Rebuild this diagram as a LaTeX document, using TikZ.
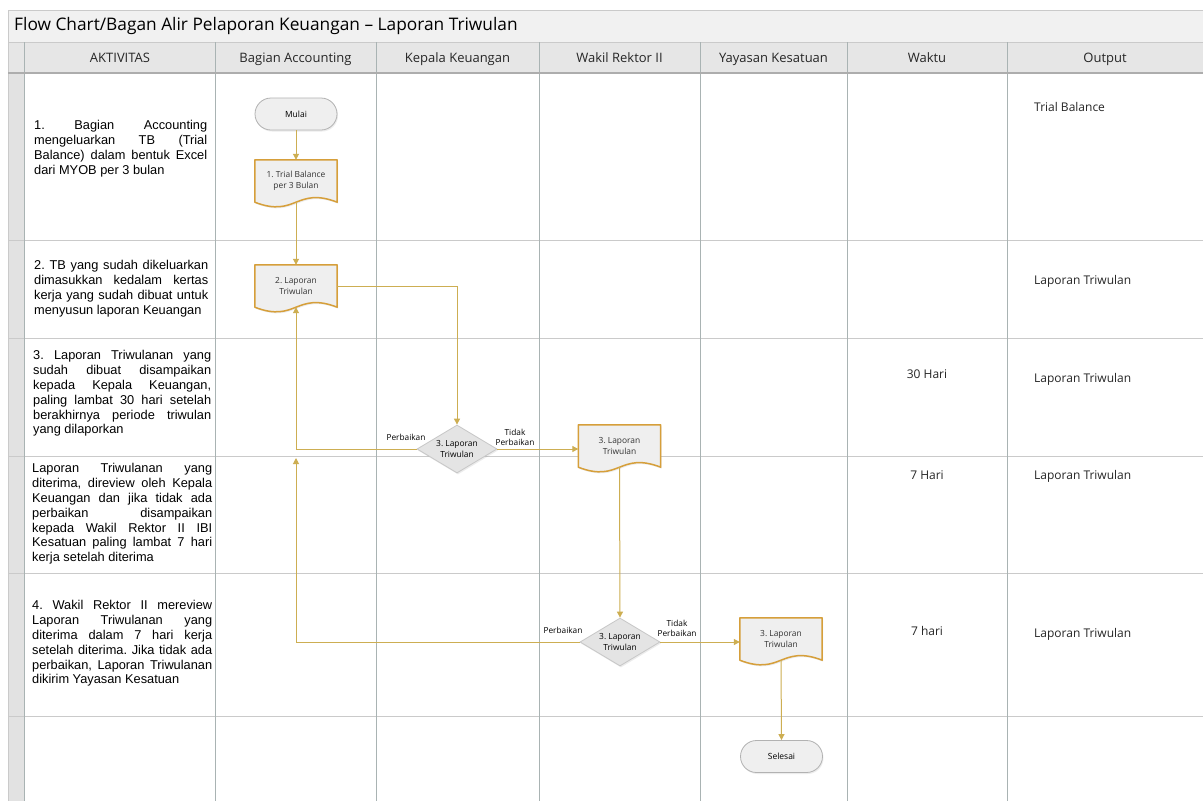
\documentclass[tikz,border=0pt]{standalone}
\usepackage{fontspec}
\setmainfont{Open Sans}
\newfontfamily\arialf{Liberation Sans}
\usetikzlibrary{shapes.geometric,arrows.meta,calc,shadows}

\definecolor{gridv}{HTML}{A9B3B3}
\definecolor{gridh}{HTML}{CACACA}
\definecolor{conncol}{HTML}{CDAE52}
\definecolor{docedge}{HTML}{D69F3A}
\definecolor{shapefill}{HTML}{EFEFEF}
\definecolor{decfill}{HTML}{E4E4E4}
\definecolor{hdrfill}{HTML}{E6E6E6}
\definecolor{titlefill}{HTML}{F1F1F1}
\definecolor{stripfill}{HTML}{E2E2E2}

\pgfdeclarelayer{bg}
\pgfdeclarelayer{mid}
\pgfsetlayers{bg,mid,main}

\newcommand{\docshape}[1]{%
  \begin{pgfonlayer}{mid}
  \path[docpath] (#1.north west) -- (#1.north east) -- (#1.south east)
     .. controls ($(#1.south)+(0,-16)$) and ($(#1.south)+(0,16)$) .. (#1.south west) -- cycle;
  \end{pgfonlayer}}

\begin{document}
\frenchspacing
\begin{tikzpicture}[x=1pt,y=-1pt,
  conn/.style={draw=conncol, line width=1pt, -{Triangle[length=6pt,width=6pt]}},
  docnode/.style={minimum width=82pt, minimum height=42pt, inner sep=0pt, align=center,
     font=\fontsize{8.4}{10.5}\selectfont, text=black!80},
  docpath/.style={fill=shapefill, draw=docedge, line width=1.5pt, line join=round,
     drop shadow={opacity=0.15, shadow xshift=1pt, shadow yshift=-1.5pt}},
  term/.style={rectangle, rounded corners=16pt, minimum width=82pt, minimum height=32pt,
     fill=shapefill, draw=black!30, line width=0.8pt, font=\fontsize{8.5}{10}\selectfont,
     drop shadow={opacity=0.15, shadow xshift=1pt, shadow yshift=-1.5pt}},
  dec/.style={diamond, aspect=1.67, minimum width=80pt, minimum height=48pt, inner sep=0pt,
     fill=decfill, draw=black!22, line width=0.8pt, align=center,
     font=\fontsize{8.4}{10.5}\selectfont,
     drop shadow={opacity=0.15, shadow xshift=1pt, shadow yshift=-1.5pt}},
  lbl/.style={font=\fontsize{8.3}{10}\selectfont, align=center, inner sep=0pt},
  hdr/.style={font=\fontsize{13}{15}\selectfont, text=black!85, text height=9.5pt, text depth=3pt, inner sep=0pt},
  act/.style={anchor=north west, inner sep=0pt, align=left,
     font=\arialf\fontsize{12.8}{14.9}\selectfont},
  celltxt/.style={font=\fontsize{12}{14}\selectfont, text=black!85, inner sep=0pt, text height=9pt, text depth=3pt},
  vline/.style={draw=gridv, line width=1pt},
  hline/.style={draw=gridh, line width=1pt}
]
\useasboundingbox (0,0) rectangle (1203,801);

% ---------- grid ----------
\begin{pgfonlayer}{bg}
\fill[white] (0,0) rectangle (1203,801);
\fill[titlefill] (8,10) rectangle (1203,42);
\fill[hdrfill] (8,42) rectangle (1203,73);
\fill[stripfill] (8,73) rectangle (24,801);
\draw[hline] (8,801) -- (8,10) -- (1203,10);
\draw[hline] (8,42) -- (1203,42);
\foreach \yy in {240,338,456,573,716} \draw[hline] (8,\yy) -- (1203,\yy);
\foreach \xx in {24,215,376,539,700,847,1007} \draw[vline] (\xx,42) -- (\xx,801);
\draw[draw=black!32, line width=1.3pt] (8,73) -- (1203,73);
\end{pgfonlayer}

% ---------- title & headers ----------
\node[anchor=west, inner sep=0pt, font=\fontsize{17.3}{20}\selectfont] (title) at (14,26.5)
  {Flow Chart/Bagan Alir Pelaporan Keuangan -- Laporan Triwulan};
\node[hdr] (h1) at (120,59) {AKTIVITAS};
\node[hdr] (h2) at (295.5,59) {Bagian Accounting};
\node[hdr] (h3) at (457.5,59) {Kepala Keuangan};
\node[hdr] (h4) at (619.5,59) {Wakil Rektor II};
\node[hdr] (h5) at (773.5,59) {Yayasan Kesatuan};
\node[hdr] (h6) at (927,59) {Waktu};
\node[hdr] (h7) at (1105,59) {Output};

% ---------- activity texts ----------
\node[act] (a1) at (34,120) {%
  \makebox[173pt][s]{1. Bagian Accounting}\\
  \makebox[173pt][s]{mengeluarkan TB (Trial}\\
  \makebox[173pt][s]{Balance) dalam bentuk Excel}\\
  dari MYOB per 3 bulan};
\node[act] (a2) at (34,260) {%
  \makebox[174pt][s]{2. TB yang sudah dikeluarkan}\\
  \makebox[174pt][s]{dimasukkan kedalam kertas}\\
  \makebox[174pt][s]{kerja yang sudah dibuat untuk}\\
  menyusun laporan Keuangan};
\node[act] (a3) at (33,350) {%
  \makebox[178pt][s]{3. Laporan Triwulanan yang}\\
  \makebox[178pt][s]{sudah dibuat disampaikan}\\
  \makebox[178pt][s]{kepada Kepala Keuangan,}\\
  \makebox[178pt][s]{paling lambat 30 hari setelah}\\
  \makebox[178pt][s]{berakhirnya periode triwulan}\\
  yang dilaporkan};
\node[act] (a4) at (32,463) {%
  \makebox[180pt][s]{Laporan Triwulanan yang}\\
  \makebox[180pt][s]{diterima, direview oleh Kepala}\\
  \makebox[180pt][s]{Keuangan dan jika tidak ada}\\
  \makebox[180pt][s]{perbaikan disampaikan}\\
  \makebox[180pt][s]{kepada Wakil Rektor II IBI}\\
  \makebox[180pt][s]{Kesatuan paling lambat 7 hari}\\
  kerja setelah diterima};
\node[act] (a5) at (32,600) {%
  \makebox[180pt][s]{4. Wakil Rektor II mereview}\\
  \makebox[180pt][s]{Laporan Triwulanan yang}\\
  \makebox[180pt][s]{diterima dalam 7 hari kerja}\\
  \makebox[180pt][s]{setelah diterima. Jika tidak ada}\\
  \makebox[180pt][s]{perbaikan, Laporan Triwulanan}\\
  dikirim Yayasan Kesatuan};

% ---------- waktu & output ----------
\node[celltxt] (w1) at (927,375.5) {30 Hari};
\node[celltxt] (w2) at (927,476.5) {7 Hari};
\node[celltxt] (w3) at (927,632.5) {7 hari};
\node[celltxt, anchor=west] (o1) at (1034,108.5) {Trial Balance};
\node[celltxt, anchor=west] (o2) at (1034,281.5) {Laporan Triwulan};
\node[celltxt, anchor=west] (o3) at (1034,379.5) {Laporan Triwulan};
\node[celltxt, anchor=west] (o4) at (1034,476.5) {Laporan Triwulan};
\node[celltxt, anchor=west] (o5) at (1034,634.5) {Laporan Triwulan};

% ---------- flow shapes ----------
\node[term] (mulai) at (296,114) {Mulai};
\node[docnode] (d1) at (296,181) {1. Trial Balance\\per 3 Bulan};
\docshape{d1}
\node[docnode] (d2) at (296,286) {2. Laporan\\Triwulan};
\docshape{d2}
\node[dec] (dm1) at (457,449) {3. Laporan\\Triwulan};
\node[docnode] (d3) at (619.5,446) {3. Laporan\\Triwulan};
\docshape{d3}
\node[dec] (dm2) at (620,642) {3. Laporan\\Triwulan};
\node[docnode] (d4) at (781,639) {3. Laporan\\Triwulan};
\docshape{d4}
\node[term] (selesai) at (781.5,756.5) {Selesai};
\coordinate (ret2) at (296,458);

% ---------- labels ----------
\node[lbl] (l1) at (406,437) {Perbaikan};
\node[lbl] (l2) at (515,437) {Tidak\\Perbaikan};
\node[lbl] (l3) at (563,630) {Perbaikan};
\node[lbl] (l4) at (677,628) {Tidak\\Perbaikan};

% ---------- connectors ----------
\draw[conn] (mulai.south) -- (d1.north);
\draw[conn] (d1.south) -- (d2.north);
\draw[conn] (d2.east) -| (dm1.north);
\draw[conn] (dm1.west) -| (d2.south);
\draw[conn] (dm1.east) -- (dm1.east -| d3.west);
\draw[conn] (d3.south) -- (dm2.north);
\draw[conn] (dm2.west) -| (ret2);
\draw[conn] (dm2.east) -- (dm2.east -| d4.west);
\draw[conn] (d4.south) -- (selesai.north);
\end{tikzpicture}
\end{document}
